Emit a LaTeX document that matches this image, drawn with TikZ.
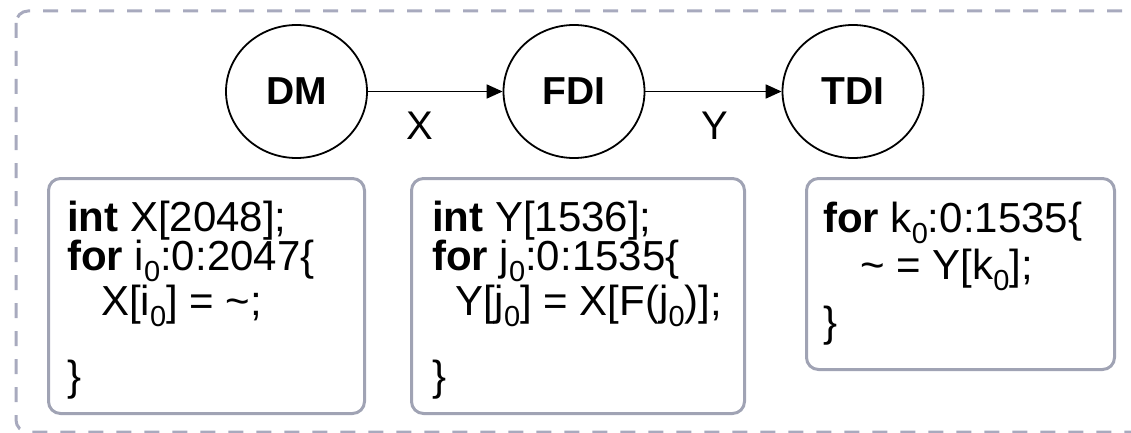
\documentclass[tikz,border=0pt]{standalone}
\usepackage{fontspec}
\setmainfont{Liberation Sans}
\usetikzlibrary{arrows.meta,shapes.geometric}
\definecolor{dashgray}{RGB}{168,170,190}
\definecolor{boxgray}{RGB}{160,163,180}
\newcommand\sbz[1]{\raisebox{-11pt}{\fontsize{29}{29}\selectfont #1}}
\tikzset{
  proc/.style={ellipse, draw=black, line width=1.8pt, minimum width=141pt, minimum height=133pt, inner sep=0pt, font=\fontsize{39}{45}\selectfont\bfseries},
  flow/.style={-{Triangle[length=16pt,width=14pt]}, line width=1.8pt, black},
  lbl/.style={font=\fontsize{40}{46}\selectfont, inner sep=0pt},
  codebox/.style={draw=boxgray, line width=3pt, rounded corners=12pt, anchor=north west, inner sep=0pt},
  code/.style={font=\fontsize{42}{50}\selectfont, anchor=base west, inner sep=0pt},
  frame/.style={draw=dashgray, line width=3pt, dash pattern=on 15pt off 13pt, rounded corners=12pt}
}
\begin{document}
\begin{tikzpicture}[x=1pt,y=-1pt]
\useasboundingbox (0,0) rectangle (1131,433);
\clip (0,0) rectangle (1131,433);
\draw[frame] (16,11) rectangle (1170,432);

\node[proc] (dm) at (296.5,91.5) {DM};
\node[proc] (fdi) at (574,91.5) {FDI};
\node[proc] (tdi) at (853,91.5) {TDI};
\draw[flow] (dm) -- (fdi);
\draw[flow] (fdi) -- (tdi);
\node[lbl] (xl) at (420,126) {X};
\node[lbl] (yl) at (715,126) {Y};

\node[codebox, minimum width=316pt, minimum height=235pt] (b1) at (47,177) {};
\node[codebox, minimum width=333pt, minimum height=235pt] (b2) at (410,177) {};
\node[codebox, minimum width=308pt, minimum height=191pt] (b3) at (805,177) {};

\node[code] (b1a) at (67,231) {\textbf{int} X[2048];};
\node[code] (b1b) at (67,270) {\textbf{for} i\sbz{0}:0:2047\{};
\node[code] (b1c) at (101,315) {X[i\sbz{0}] = \textasciitilde;};
\node[code] (b1d) at (67,390) {\}};

\node[code] (b2a) at (432,231) {\textbf{int} Y[1536];};
\node[code] (b2b) at (432,270) {\textbf{for} j\sbz{0}:0:1535\{};
\node[code] (b2c) at (455,315) {Y[j\sbz{0}] = X[F(j\sbz{0})];};
\node[code] (b2d) at (432,390) {\}};

\node[code] (b3a) at (823,232) {\textbf{for} k\sbz{0}:0:1535\{};
\node[code] (b3b) at (860,279) {\textasciitilde{} = Y[k\sbz{0}];};
\node[code] (b3c) at (823,336) {\}};
\end{tikzpicture}
\end{document}
